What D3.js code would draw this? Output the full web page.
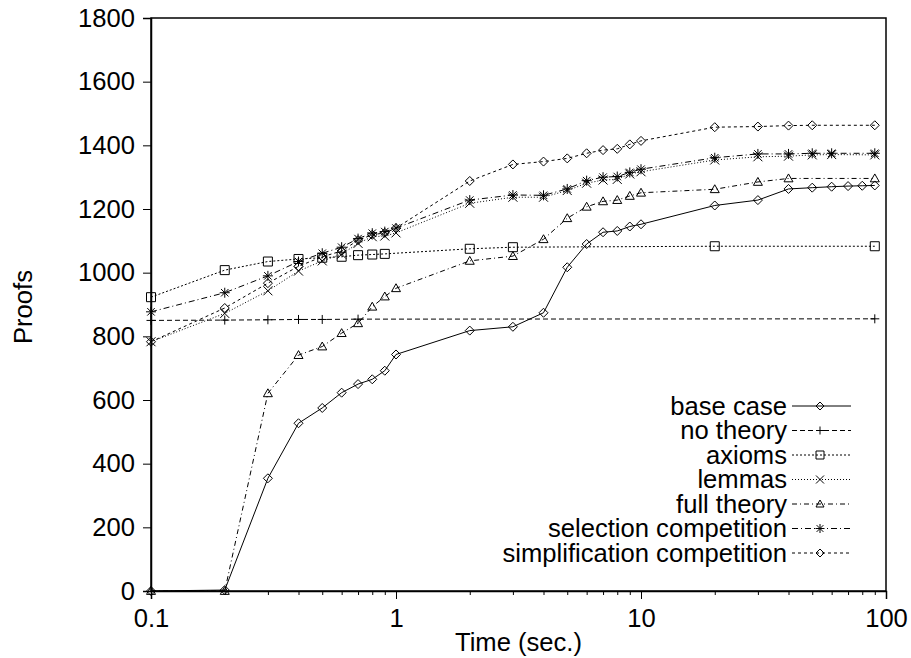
<!DOCTYPE html>
<html><head><meta charset="utf-8">
<script src="https://cdn.jsdelivr.net/npm/d3@7"></script>
<style>
body{margin:0;background:#fff;}
text{font-family:"Liberation Sans",Arial,sans-serif;fill:#000;}
</style></head>
<body><svg id="c" width="911" height="658"></svg>
<script>
// ---- data ----
const seriesNames = ["base case","no theory","axioms","lemmas","full theory","selection competition","simplification competition"];
const baseT = [0.1,0.2,0.3,0.4,0.5,0.6,0.7,0.8,0.9,1,2,3,4,5,6,7,8,9,10,20,30,40,50,60,70,80,90];
const baseV = [0,3,354,527,575,623,650,665,692,743,818,830,874,1017,1090,1127,1131,1145,1152,1211,1228,1263,1267,1270,1272,1273,1274];
const noTheoryT = [0.1,0.2,0.3,0.4,0.5,0.7,90];
const noTheoryV = [850,851,852,853,853,854,855];
const axiomsT = [0.1,0.2,0.3,0.4,0.5,0.6,0.7,0.8,0.9,2,3,20,90];
const axiomsV = [923,1008,1035,1043,1047,1050,1055,1057,1059,1075,1080,1083,1083];
const lemmasT = [0.1,0.2,0.3,0.4,0.5,0.6,0.7,0.8,0.9,1,2,3,4,5,6,7,8,9,10,20,30,40,50,60,90];
const lemmasV = [783,872,943,1005,1037,1058,1092,1113,1115,1125,1218,1237,1237,1258,1281,1291,1293,1310,1317,1354,1364,1366,1370,1371,1370];
const fullT = [0.1,0.2,0.3,0.4,0.5,0.6,0.7,0.8,0.9,1,2,3,4,5,6,7,8,9,10,20,30,40,90];
const fullV = [0,0,621,741,768,810,841,893,925,951,1037,1052,1105,1171,1207,1224,1228,1241,1251,1262,1285,1296,1296];
const selT = [0.1,0.2,0.3,0.4,0.5,0.6,0.7,0.8,0.9,1,2,3,4,5,6,7,8,9,10,20,30,40,50,60,90];
const selV = [877,937,990,1035,1061,1080,1107,1124,1129,1140,1228,1244,1243,1263,1289,1300,1302,1315,1325,1361,1373,1373,1375,1375,1375];
const simpT = [0.1,0.2,0.3,0.4,0.5,0.6,0.7,0.8,0.9,1,2,3,4,5,6,7,8,9,10,20,30,40,50,90];
const simpV = [783,889,967,1020,1050,1068,1102,1119,1125,1140,1288,1340,1349,1359,1375,1385,1389,1403,1414,1457,1459,1462,1463,1463];
const yTicks = [0,200,400,600,800,1000,1200,1400,1600,1800];
const xMajor = [0.1,1,10,100];
const xMajorLabels = ["0.1","1","10","100"];
const xMinor = [0.2,0.3,0.4,0.5,0.6,0.7,0.8,0.9,2,3,4,5,6,7,8,9,20,30,40,50,60,70,80,90];

// ---- styles ----
const dashes = [null,"5,3","2,2","1,2","5,3,1,3","6,3,1,3","3,3"];
const markers = ["diamond","plus","square","cross","triangle","star","diamond"];
const seriesT = [baseT,noTheoryT,axiomsT,lemmasT,fullT,selT,simpT];
const seriesV = [baseV,noTheoryV,axiomsV,lemmasV,fullV,selV,simpV];

const L=151,R=886,T=18,B=591;
const x = d3.scaleLog().domain([0.1,100]).range([L,R]);
const y = d3.scaleLinear().domain([0,1800]).range([B,T]);
const svg = d3.select("#c");
const FS = 25.6;

function markerPath(type, s){
  const h=s/2;
  switch(type){
    case "diamond": return `M0,${-h}L${h},0L0,${h}L${-h},0Z`;
    case "plus": return `M${-h},0L${h},0M0,${-h}L0,${h}`;
    case "square": return `M${-h},${-h}L${h},${-h}L${h},${h}L${-h},${h}Z`;
    case "cross": return `M${-h},${-h}L${h},${h}M${-h},${h}L${h},${-h}`;
    case "triangle": return `M0,${-h}L${h},${h*0.75}L${-h},${h*0.75}Z`;
    case "star": return `M${-h},0L${h},0M0,${-h}L0,${h}M${-h*0.75},${-h*0.75}L${h*0.75},${h*0.75}M${-h*0.75},${h*0.75}L${h*0.75},${-h*0.75}`;
  }
}
const msize = [9,9,9,9,9,10,9];

// frame
svg.append("rect").attr("x",L).attr("y",T).attr("width",R-L).attr("height",B-T)
  .attr("fill","none").attr("stroke","#000").attr("stroke-width",1.5);

// axes
const yAxis = d3.axisLeft(y).tickValues(yTicks).tickSize(8).tickPadding(8).tickFormat(d3.format("d"));
const gy = svg.append("g").attr("transform",`translate(${L},0)`).call(yAxis);
gy.selectAll("text").style("font-size",FS+"px").style("font-family","Liberation Sans, Arial, sans-serif");
gy.select(".domain").attr("stroke-width",1.5);

const xAxis = d3.axisBottom(x).tickValues(xMajor).tickSize(8).tickPadding(10)
  .tickFormat((d,i)=>xMajorLabels[i]);
const gx = svg.append("g").attr("transform",`translate(0,${B})`).call(xAxis);
gx.selectAll("text").style("font-size",FS+"px").style("font-family","Liberation Sans, Arial, sans-serif");
gx.select(".domain").attr("stroke-width",1.5);
const xAxisMinor = d3.axisBottom(x).tickValues(xMinor).tickSize(4).tickFormat("");
const gxm = svg.append("g").attr("transform",`translate(0,${B})`).call(xAxisMinor);
gxm.select(".domain").remove();

// labels
svg.append("text").attr("x",(L+R)/2).attr("y",651).attr("text-anchor","middle")
  .style("font-size",FS+"px").text("Time (sec.)");
svg.append("text").attr("transform",`translate(32,307) rotate(-90)`).attr("text-anchor","middle")
  .style("font-size",FS+"px").text("Proofs");

// series
const line = d3.line().x(d=>x(d[0])).y(d=>y(d[1]));
const plot = svg.append("g");
seriesNames.forEach((name,i)=>{
  const pts = seriesT[i].map((t,j)=>[t,seriesV[i][j]]);
  plot.append("path").datum(pts).attr("d",line).attr("fill","none")
    .attr("stroke","#000").attr("stroke-width",1)
    .attr("stroke-dasharray",dashes[i]);
  plot.selectAll(null).data(pts).enter().append("path")
    .attr("transform",d=>`translate(${x(d[0])},${y(d[1])})`)
    .attr("d",markerPath(markers[i],msize[i]))
    .attr("fill","none").attr("stroke","#000").attr("stroke-width",1);
});

// legend
const legX = 787, legY0 = 406, legDy = 24.5;
const leg = svg.append("g");
seriesNames.forEach((name,i)=>{
  const yy = legY0 + i*legDy;
  leg.append("text").attr("x",legX).attr("y",yy).attr("dy","0.35em").attr("text-anchor","end")
    .style("font-size",FS+"px").text(name);
  leg.append("line").attr("x1",792).attr("x2",851).attr("y1",yy).attr("y2",yy)
    .attr("stroke","#000").attr("stroke-width",1).attr("stroke-dasharray",dashes[i]);
  leg.append("path").attr("transform",`translate(820,${yy})`).attr("d",markerPath(markers[i],msize[i]-1))
    .attr("fill","none").attr("stroke","#000").attr("stroke-width",1);
});
</script></body></html>
